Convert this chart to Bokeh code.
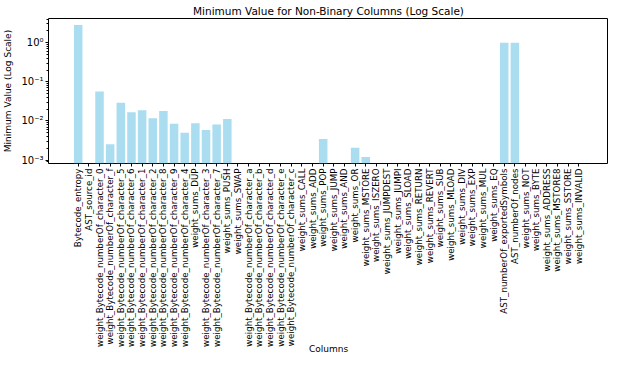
import math
from bokeh.plotting import figure
from bokeh.models import FactorRange, Range1d, ColumnDataSource, LogTicker, CustomJSTickFormatter
from bokeh.embed import file_html
from bokeh.resources import INLINE

columns = [
    "Bytecode_entropy", "AST_source_id",
    "weight_Bytecode_numberOf_character_0", "weight_Bytecode_numberOf_character_f",
    "weight_Bytecode_numberOf_character_5", "weight_Bytecode_numberOf_character_6",
    "weight_Bytecode_numberOf_character_1", "weight_Bytecode_numberOf_character_2",
    "weight_Bytecode_numberOf_character_8", "weight_Bytecode_numberOf_character_9",
    "weight_Bytecode_numberOf_character_4", "weight_sums_DUP",
    "weight_Bytecode_numberOf_character_3", "weight_Bytecode_numberOf_character_7",
    "weight_sums_PUSH", "weight_sums_SWAP",
    "weight_Bytecode_numberOf_character_a", "weight_Bytecode_numberOf_character_b",
    "weight_Bytecode_numberOf_character_d", "weight_Bytecode_numberOf_character_e",
    "weight_Bytecode_numberOf_character_c", "weight_sums_CALL", "weight_sums_ADD",
    "weight_sums_POP", "weight_sums_JUMP", "weight_sums_AND", "weight_sums_OR",
    "weight_sums_MSTORE", "weight_sums_ISZERO", "weight_sums_JUMPDEST",
    "weight_sums_JUMPI", "weight_sums_SLOAD", "weight_sums_RETURN",
    "weight_sums_REVERT", "weight_sums_SUB", "weight_sums_MLOAD", "weight_sums_DIV",
    "weight_sums_EXP", "weight_sums_MUL", "weight_sums_EQ",
    "AST_numberOf_exportedSymbols", "AST_numberOf_nodes", "weight_sums_NOT",
    "weight_sums_BYTE", "weight_sums_ADDRESS", "weight_sums_MSTORE8",
    "weight_sums_SSTORE", "weight_sums_INVALID",
]
min_values = [
    2.81, 0.0,
    0.057, 0.00253,
    0.0294, 0.0167,
    0.0188, 0.0118,
    0.0181, 0.00845,
    0.00499, 0.00879,
    0.00584, 0.00815,
    0.0113, 0.0,
    0.0, 0.0,
    0.0, 0.0,
    0.0, 0.0, 0.0,
    0.00345, 0.0, 0.0, 0.00207,
    0.00121, 0.0, 0.0,
    0.0, 0.0, 0.0,
    0.0, 0.0, 0.0, 0.0,
    0.0, 0.0, 0.0,
    1.0, 1.0, 0.0,
    0.0, 0.0, 0.0,
    0.0, 0.0,
]

tops = [v if v > 0 else float("nan") for v in min_values]
src = ColumnDataSource(dict(x=columns, top=tops))

FONT = "DejaVu Sans"

p = figure(
    width=608, height=356,
    x_range=FactorRange(*columns, range_padding=0.0954),
    y_range=Range1d(10 ** -3.086, 10 ** 0.617),
    y_axis_type="log",
    output_backend="svg", toolbar_location=None,
    title="Minimum Value for Non-Binary Columns (Log Scale)",
    min_border_right=0, min_border_top=0, min_border_left=0, min_border_bottom=0,
)
p.vbar(x="x", top="top", bottom=1e-5, width=0.8, source=src,
       fill_color="skyblue", fill_alpha=0.7, line_color=None)

p.title.text_font = FONT
p.title.text_font_size = "10.5px"
p.title.text_font_style = "normal"
p.title.align = "center"
p.title.text_color = "black"
p.title.standoff = 4

p.xgrid.visible = False
p.ygrid.visible = False
p.outline_line_color = "black"
p.outline_line_alpha = 1
p.outline_line_width = 1

for ax in (p.xaxis[0], p.yaxis[0]):
    ax.axis_label_text_font = FONT
    ax.axis_label_text_font_size = "9px"
    ax.axis_label_text_font_style = "normal"
    ax.axis_label_text_color = "black"
    ax.major_label_text_font = FONT
    ax.major_label_text_font_size = "8.7px"
    ax.major_label_text_color = "black"
    ax.major_tick_out = 3
    ax.major_tick_in = 0
    ax.minor_tick_out = 2
    ax.minor_tick_in = 0
    ax.axis_line_color = None
    ax.major_tick_line_color = "black"
    ax.minor_tick_line_color = "black"

p.xaxis.axis_label = "Columns"
p.xaxis.major_label_orientation = math.pi / 2
p.xaxis.major_label_standoff = 2
p.xaxis.axis_label_standoff = -6

p.yaxis.axis_label = "Minimum Value (Log Scale)"
p.yaxis.major_label_standoff = 2
p.yaxis.axis_label_standoff = 5
p.yaxis.major_label_text_font_size = "10px"
p.yaxis.ticker = LogTicker(num_minor_ticks=10)
p.yaxis.formatter = CustomJSTickFormatter(code="""
const sup = {"-": "\u207b", "0": "\u2070", "1": "\u00b9", "2": "\u00b2", "3": "\u00b3",
             "4": "\u2074", "5": "\u2075", "6": "\u2076", "7": "\u2077", "8": "\u2078", "9": "\u2079"};
const e = String(Math.round(Math.log10(tick)));
let s = "";
for (const c of e) { s += sup[c]; }
return "10" + s;
""")

open("out.html", "w").write(file_html(p, INLINE))
